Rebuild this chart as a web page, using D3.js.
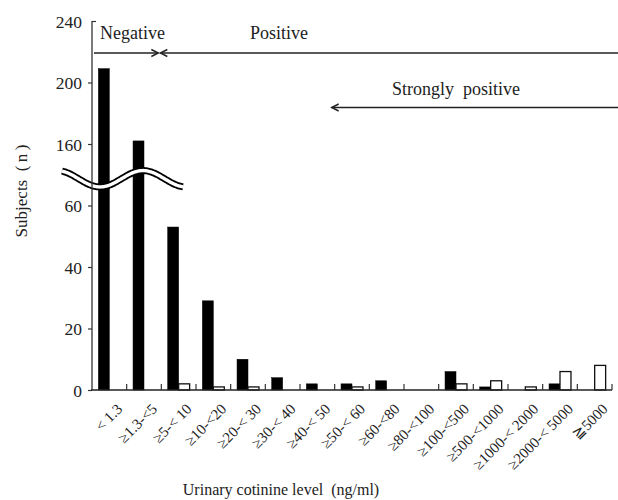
<!DOCTYPE html>
<html>
<head>
<meta charset="utf-8">
<script src="https://cdn.jsdelivr.net/npm/d3@7"></script>
<style>
  html, body { margin: 0; padding: 0; background: #fff; }
  svg { display: block; }
  text { font-family: "Liberation Serif", "Times New Roman", serif; fill: #222; }
</style>
</head>
<body>
<svg id="chart" width="618" height="500"></svg>
<script>
// ---- data ----
const categories = ["< 1.3", "≥1.3-<5", "≥5-< 10", "≥10-<20", "≥20-< 30", "≥30-< 40", "≥40-< 50",
  "≥50-< 60", "≥60-<80", "≥80-<100", "≥100-<500", "≥500-<1000", "≥1000-< 2000", "≥2000-< 5000", "≧5000"];
const blackValues = [209, 162, 53, 29, 10, 4, 2, 2, 3, 0, 6, 1, 0, 2, 0];
const whiteValues = [0, 0, 2, 1, 1, 0, 0, 1, 0, 0, 2, 3, 1, 6, 8];
const yTickValues = [0, 20, 40, 60, 160, 200, 240];
const seriesKeys = ["black", "white"];

(function () {
const svg = d3.select("#chart");
svg.append("rect").attr("width", 618).attr("height", 500).attr("fill", "#fff");

const pL = 92, pR = 612, pT = 21, pB = 390;

const x = d3.scaleBand().domain(categories).range([pL, pR]).padding(0);
const xSub = d3.scaleBand().domain(seriesKeys).range([0, x.bandwidth()]).paddingInner(0).paddingOuter(0.58);
// broken axis: 0-60 lower segment, 160-240 upper segment
const y = d3.scaleLinear().domain([0, 60, 160, 240]).range([pB, 205.5, 144, pT]);

const rows = categories.map((c, i) => ({ cat: c, black: blackValues[i], white: whiteValues[i] }));

// bars
const g = svg.append("g");
rows.forEach(r => {
  seriesKeys.forEach(k => {
    if (r[k] > 0) {
      g.append("rect")
        .attr("x", x(r.cat) + xSub(k))
        .attr("y", y(r[k]))
        .attr("width", xSub.bandwidth())
        .attr("height", y(0) - y(r[k]))
        .attr("fill", k === "black" ? "#000" : "#fff")
        .attr("stroke", k === "black" ? "#000" : "#111")
        .attr("stroke-width", k === "black" ? 0.5 : 1.3);
    }
  });
});

// break symbol (double wavy line)
const breakC = (y(60) + y(160)) / 2 + 4;
const wx0 = x(categories[0]) - 30, wx1 = x(categories[2]) + 22;
const wavePts = d3.range(wx0, wx1 + 0.5, 1).map(px => [px, breakC - 8.2 * Math.cos(Math.PI * (px - (wx0 - 5)) / 43)]);
const line = d3.line().curve(d3.curveBasis);
svg.append("path").attr("d", line(wavePts)).attr("fill", "none").attr("stroke", "#000").attr("stroke-width", 7);
svg.append("path").attr("d", line(wavePts)).attr("fill", "none").attr("stroke", "#fff").attr("stroke-width", 3.4);

// y axis
const yAxis = d3.axisLeft(y).tickValues(yTickValues).tickSize(4).tickSizeOuter(0).tickFormat(d3.format("d"));
const yg = svg.append("g").attr("transform", `translate(${pL},0)`).call(yAxis);
yg.select(".domain").remove();
yg.selectAll(".tick line").attr("stroke", "#333").attr("stroke-width", 1.2);
yg.selectAll(".tick").filter(d => d === 240).select("line").attr("x2", 4);
yg.selectAll(".tick text").attr("x", -10).attr("dy", "0.35em")
  .style("font-family", "'Liberation Serif', serif").style("font-size", "17.5px").attr("fill", "#222");
svg.append("line").attr("x1", pL).attr("x2", pL).attr("y1", y(240)).attr("y2", y(0))
  .attr("stroke", "#333").attr("stroke-width", 1.3);

// x axis
svg.append("line").attr("x1", pL - 1).attr("x2", pR).attr("y1", y(0)).attr("y2", y(0))
  .attr("stroke", "#222").attr("stroke-width", 1.6);
const bounds = categories.slice(1).map(c => x(c)).concat([pR]);
svg.append("g").selectAll("line").data(bounds).join("line")
  .attr("x1", d => d).attr("x2", d => d).attr("y1", y(0)).attr("y2", y(0) - 6)
  .attr("stroke", "#333").attr("stroke-width", 1.2);

// x tick labels
svg.append("g").selectAll("text").data(categories).join("text")
  .attr("transform", d => `translate(${x(d) + x.bandwidth() / 2 + 14},${y(0) + 20}) rotate(-45)`)
  .attr("text-anchor", "end")
  .style("font-size", "15px")
  .text(d => d);

// axis titles
svg.append("text").attr("x", 281).attr("y", 495).attr("text-anchor", "middle")
  .style("font-size", "16px").text("Urinary cotinine level\u00a0\u00a0(ng/ml)");
svg.append("text").attr("transform", "translate(27,191) rotate(-90)").attr("text-anchor", "middle")
  .style("font-size", "17px").text("Subjects\u00a0\u00a0(\u2009n\u2009)");

// annotations
const ann = svg.append("g");
const arrowY1 = 53, arrowY2 = 107.5;
const negEnd = x(categories[2]) - 3, posStart = x(categories[2]) - 1;
const strongStart = x(categories[7]) - 3;
function head(px, py, dir) {
  ann.append("path")
    .attr("d", `M${px - dir * 7},${py - 3.5} L${px},${py} L${px - dir * 7},${py + 3.5}`)
    .attr("fill", "none").attr("stroke", "#222").attr("stroke-width", 1.4);
}
ann.append("line").attr("x1", pL + 2).attr("x2", negEnd).attr("y1", arrowY1).attr("y2", arrowY1)
  .attr("stroke", "#222").attr("stroke-width", 1.6);
head(negEnd, arrowY1, 1);
ann.append("line").attr("x1", posStart).attr("x2", 618).attr("y1", arrowY1).attr("y2", arrowY1)
  .attr("stroke", "#222").attr("stroke-width", 1.6);
head(posStart, arrowY1, -1);
ann.append("line").attr("x1", strongStart).attr("x2", 618).attr("y1", arrowY2).attr("y2", arrowY2)
  .attr("stroke", "#222").attr("stroke-width", 1.6);
head(strongStart, arrowY2, -1);

ann.append("text").attr("x", 100).attr("y", 39).style("font-size", "18px").text("Negative");
ann.append("text").attr("x", 250).attr("y", 39).style("font-size", "18px").text("Positive");
ann.append("text").attr("x", 392).attr("y", 95).style("font-size", "18px")
  .text("Strongly\u00a0 positive");
})();
</script>
</body>
</html>
